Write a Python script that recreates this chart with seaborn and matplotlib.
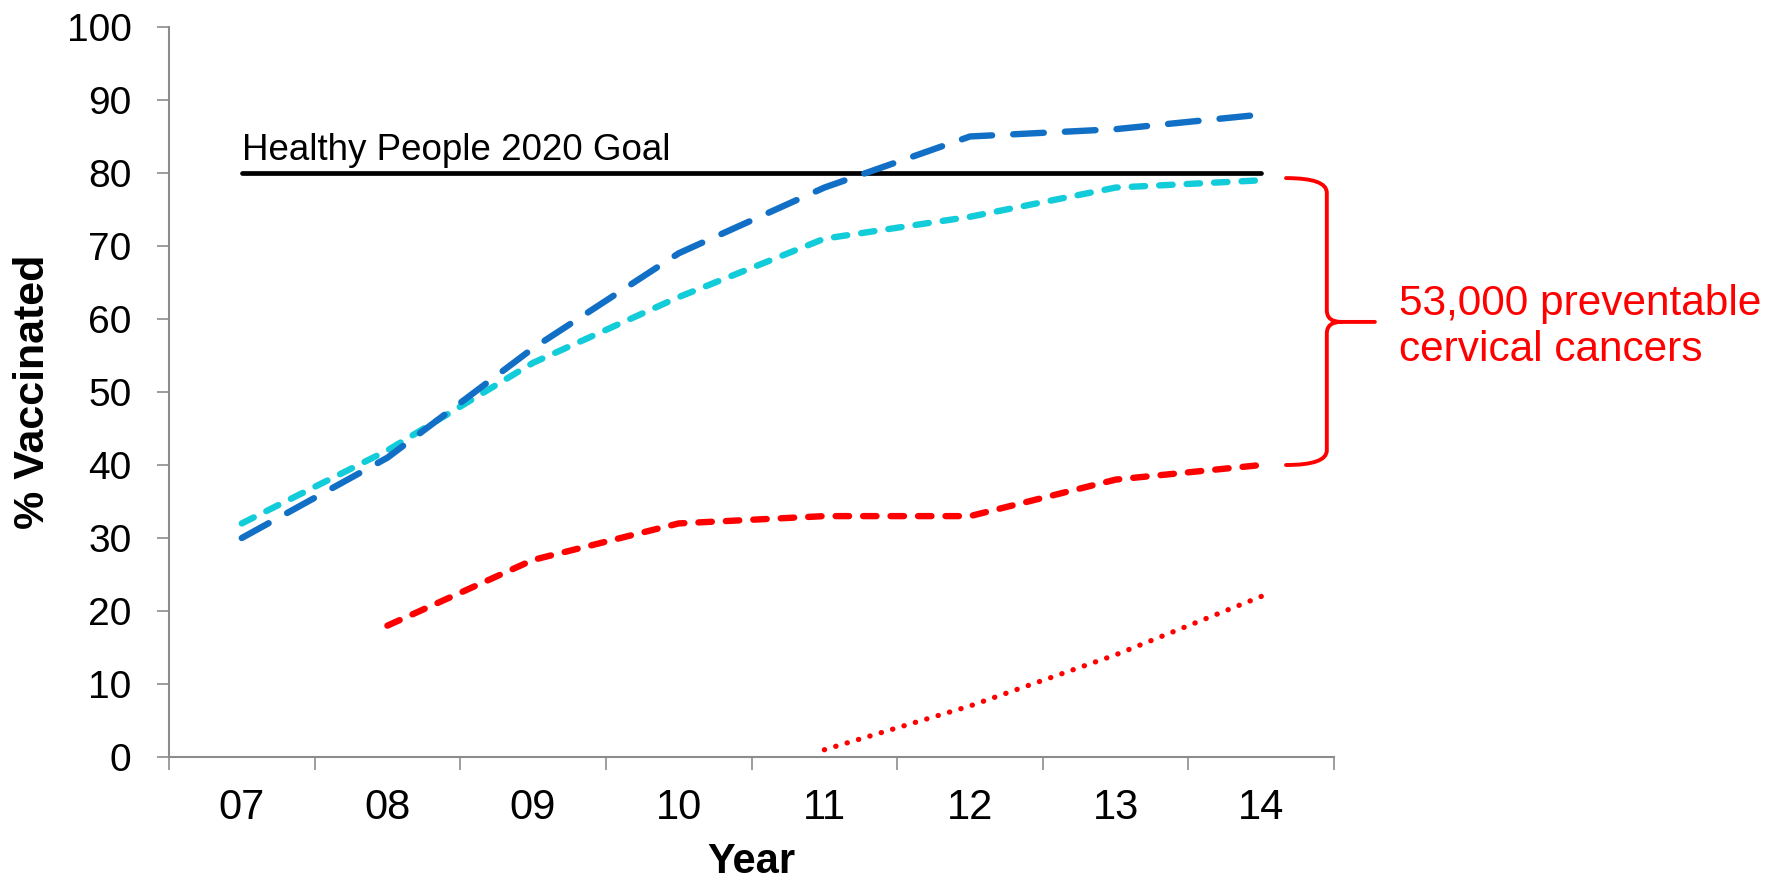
import numpy as np
import pandas as pd
import matplotlib
matplotlib.use("Agg")
import matplotlib.pyplot as plt
import seaborn as sns
from matplotlib.path import Path
from matplotlib.patches import PathPatch

years = [2007, 2008, 2009, 2010, 2011, 2012, 2013, 2014]
year_labels = ["07", "08", "09", "10", "11", "12", "13", "14"]
blue_long = [30, 41, 56, 69, 78, 85, 86, 88]
cyan_short = [32, 42, 54, 63, 71, 74, 78, 79]
red_dashed = [np.nan, 18, 27, 32, 33, 33, 38, 40]
red_dotted = [np.nan, np.nan, np.nan, np.nan, 1, 7, 14, 22]
goal = [80, 80, 80, 80, 80, 80, 80, 80]
goal_label = "Healthy People 2020 Goal"
brace_label = "53,000 preventable\ncervical cancers"

sns.set_style("white")
plt.rcParams['font.family'] = ['Liberation Sans', 'DejaVu Sans']
plt.rcParams['text.color'] = 'black'
plt.rcParams['axes.labelcolor'] = 'black'

df = pd.DataFrame({"year": years, "blue": blue_long, "cyan": cyan_short,
                   "red": red_dashed, "dot": red_dotted, "goal": goal})

fig = plt.figure(figsize=(17.71, 8.81), dpi=100)
ax = fig.add_axes([0.0954, 0.1407, 0.6579, 0.8287])

sns.lineplot(data=df, x="year", y="goal", ax=ax, color="black", lw=3.4,
             solid_capstyle="round")
sns.lineplot(data=df, x="year", y="cyan", ax=ax, color="#12CCDA", lw=4.6,
             linestyle=(0, (2.1, 2.2)), dash_capstyle="round")
sns.lineplot(data=df, x="year", y="blue", ax=ax, color="#1170C6", lw=4.6,
             linestyle=(0, (4.8, 3.3)), dash_capstyle="round")
sns.lineplot(data=df, x="year", y="red", ax=ax, color="#FF0000", lw=4.6,
             linestyle=(0, (2.1, 2.2)), dash_capstyle="round")
sns.lineplot(data=df, x="year", y="dot", ax=ax, color="#FF0000", lw=3.8,
             linestyle=(0, (0.05, 2.2)), dash_capstyle="round")

ax.text(years[0], 81.8, goal_label, fontsize=26.5, color="black",
        ha="left", va="baseline")

# curly brace between goal and current coverage
x0, xv, xt = 2014.17, 2014.45, 2014.78
ytop, ymid, ybot = 79.3, 59.6, 40.0
verts = [(x0, ytop), (xv, ytop), (xv, ytop - 2.0),
         (xv, ymid + 1.6), (xv, ymid), (xv + 0.1, ymid),
         (xt, ymid),
         (xv + 0.1, ymid), (xv, ymid), (xv, ymid - 1.6),
         (xv, ybot + 2.0), (xv, ybot), (x0, ybot)]
codes = [Path.MOVETO, Path.CURVE3, Path.CURVE3,
         Path.LINETO, Path.CURVE3, Path.CURVE3,
         Path.LINETO,
         Path.MOVETO, Path.CURVE3, Path.CURVE3,
         Path.LINETO, Path.CURVE3, Path.CURVE3]
ax.add_patch(PathPatch(Path(verts, codes), fill=False, edgecolor="#FF0000",
                       lw=2.8, clip_on=False, capstyle="round"))
fig.text(0.790, 0.629, brace_label, fontsize=30.5, color="#FF0000",
         ha="left", va="center", linespacing=1.2)

ax.set_xlim(2006.5, 2014.5)
ax.set_ylim(0, 100)
ax.set_yticks(range(0, 101, 10))
ax.set_xticks(np.arange(2006.5, 2015, 1.0))
ax.set_xticklabels([])
ax.set_xticks(years, minor=True)
ax.set_xticklabels(year_labels, minor=True)
ax.tick_params(axis="x", which="major", direction="out", length=9, width=1.2,
               color="#8C8C8C", bottom=True)
ax.tick_params(axis="x", which="minor", length=0, pad=22, labelsize=30,
               labelcolor="black")
ax.tick_params(axis="y", direction="out", length=9, width=1.2, color="#8C8C8C",
               left=True, pad=18, labelsize=28, labelcolor="black")

for side in ["top", "right"]:
    ax.spines[side].set_visible(False)
for side in ["left", "bottom"]:
    ax.spines[side].set_color("#8C8C8C")
    ax.spines[side].set_linewidth(1.5)

ax.set_xlabel("Year", fontsize=30, fontweight="bold")
ax.set_ylabel("% Vaccinated", fontsize=31, fontweight="bold", va="center")
ax.xaxis.set_label_coords(0.5, -0.116)
ax.yaxis.set_label_coords(-0.117, 0.5)

fig.savefig("out.png", dpi=100)
